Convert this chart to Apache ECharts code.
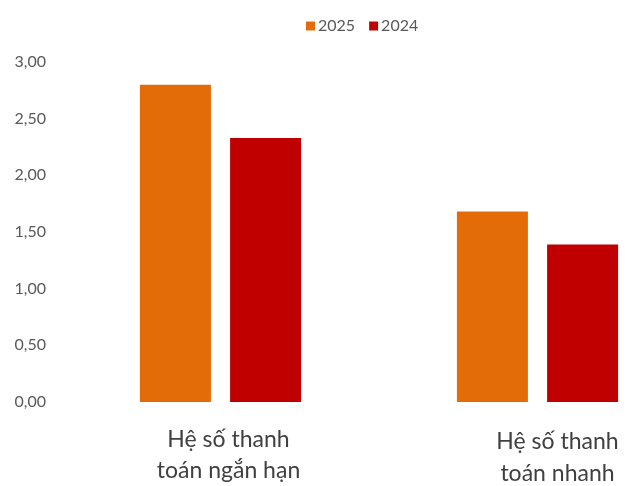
<!DOCTYPE html>
<html><head><meta charset="utf-8">
<script src="https://cdn.jsdelivr.net/npm/echarts@6/dist/echarts.min.js"></script>
<style>html,body{margin:0;padding:0;background:#fff;overflow:hidden}#c{width:700px;height:486px}</style>
</head><body><div id="c"></div>
<script>
var categories = ['Hệ số thanh\ntoán ngắn hạn', 'Hệ số thanh\ntoán nhanh'];
var seriesNames = ['2025', '2024'];
var values2025 = [2.80, 1.68];
var values2024 = [2.33, 1.39];
var yTicks = [0, 0.5, 1, 1.5, 2, 2.5, 3];

var chart = echarts.init(document.getElementById('c'));
chart.setOption({
  animation: false,
  textStyle: { fontFamily: 'Lato' },
  legend: {
    top: 13, left: 301, itemWidth: 9, itemHeight: 9, itemGap: 14,
    icon: 'rect',
    textStyle: { color: '#595959', fontSize: 16, padding: [0, 0, 0, -2] },
    data: seriesNames
  },
  grid: { left: 62, width: 634, top: 62, height: 340 },
  xAxis: {
    type: 'category', data: categories,
    axisLine: { show: false }, axisTick: { show: false },
    axisLabel: {
      margin: 22, interval: 0,
      formatter: function (v, i) {
        var lines = v.split('\n');
        var tag = i === 0 ? 'a' : 'b';
        return lines.map(function (l) { return '{' + tag + '|' + l + '}'; }).join('\n');
      },
      rich: {
        a: { fontSize: 23, color: '#404040', lineHeight: 31, padding: [0, 0, 0, 16] },
        b: { fontSize: 23, color: '#404040', lineHeight: 32, padding: [4, 0, 0, 40] }
      }
    }
  },
  yAxis: {
    type: 'value', min: yTicks[0], max: yTicks[yTicks.length - 1], interval: 0.5,
    axisLine: { show: false }, axisTick: { show: false }, splitLine: { show: false },
    axisLabel: {
      color: '#595959', fontSize: 16, margin: 16,
      formatter: function (v) { return v.toFixed(2).replace('.', ','); }
    }
  },
  series: [
    { name: seriesNames[0], type: 'bar', data: values2025, barWidth: 71, barGap: '27%',
      itemStyle: { color: '#E36C09' } },
    { name: seriesNames[1], type: 'bar', data: values2024, barWidth: 71,
      itemStyle: { color: '#C00000' } }
  ]
});
</script></body></html>
